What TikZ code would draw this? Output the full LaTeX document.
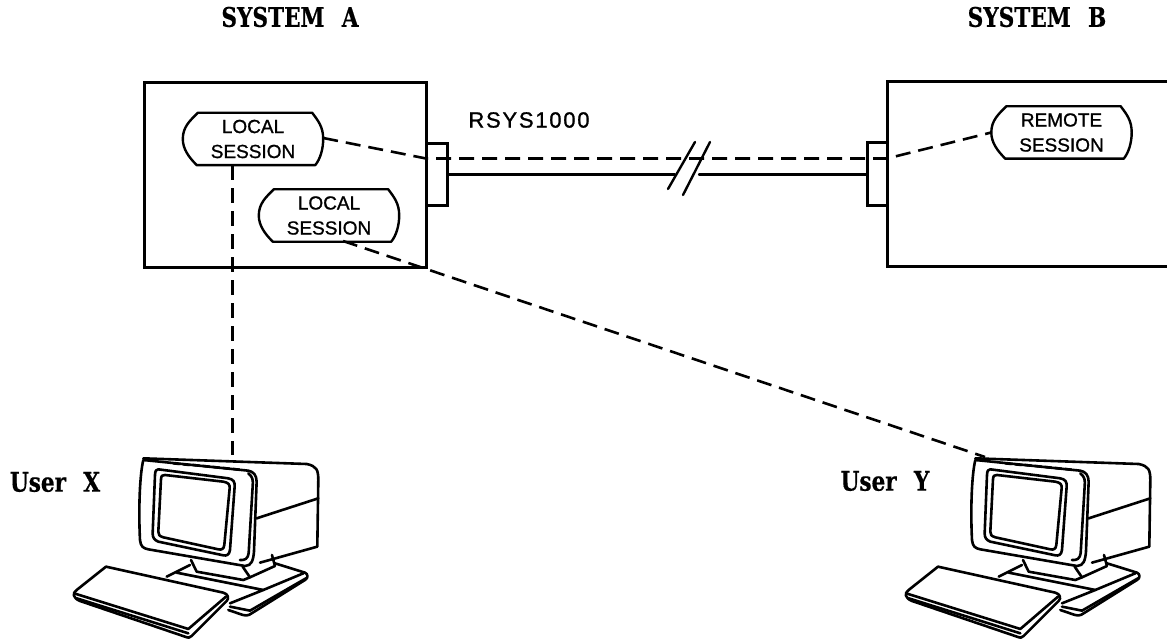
\documentclass[tikz,border=0pt]{standalone}
\usepackage{fontspec}
\setmainfont{Liberation Sans}
\newfontfamily\headfont{DejaVu Serif}[WordSpace=2.3,FakeStretch=0.8,BoldFeatures={FakeBold=0.5}]
\newfontfamily\sessfont{Liberation Sans}[FakeBold=1.0]
\newfontfamily\rsysfont{Liberation Sans}[FakeBold=1.0,LetterSpace=8]
\usetikzlibrary{calc}
\tikzset{
  line/.style={line width=2.4pt,line cap=round,line join=round},
  dash line/.style={line width=2.6pt,dash pattern=on 15pt off 8pt},
  boxnode/.style={rectangle,draw,line width=2.4pt,inner sep=0pt,minimum width=#1},
  heading/.style={font=\headfont\bfseries\fontsize{27}{27}\selectfont,inner sep=0pt},
  session/.style={font=\sessfont\fontsize{19}{25}\selectfont,align=center,inner sep=0pt,minimum width=140pt,minimum height=52pt,text width=140pt},
  sess outline/.style={line width=2.4pt,line join=round},
  pics/terminal/.style={code={
    \begin{scope}[x=.3333pt,y=-.3333pt,line width=2.6pt,line join=round,line cap=round]
      % housing
      \draw (250,55) -- (740,72) .. controls (770,78) and (775,90) .. (775,120) -- (772,320) -- (600,368);
      \draw (590,235) -- (775,175);
      % front bezel
      \draw (250,60) .. controls (240,100) and (235,200) .. (240,300) .. controls (242,320) and (250,325) .. (265,328) -- (555,378) .. controls (575,378) and (580,360) .. (582,335) -- (590,125) .. controls (590,105) and (580,95) .. (565,92) -- cycle;
      \draw (565,100) .. controls (578,110) and (580,120) .. (578,140) -- (566,340) .. controls (564,355) and (555,362) .. (540,360);
      \draw (295,88) -- (505,115) .. controls (520,118) and (525,125) .. (524,140) -- (510,330) .. controls (508,345) and (500,348) .. (490,346) -- (295,305) .. controls (282,300) and (278,292) .. (278,280) -- (285,105) .. controls (286,92) and (288,88) .. (295,88) -- cycle;
      \draw (315,105) -- (490,125) .. controls (505,128) and (510,133) .. (509,145) -- (493,315) .. controls (491,328) and (485,330) .. (475,328) -- (310,292) .. controls (298,288) and (295,285) .. (295,275) -- (303,118) .. controls (304,108) and (306,104) .. (315,105) -- cycle;
      \foreach \bx/\by in {340/70,370/73,400/75,430/78,460/81,490/84,520/87}
        \draw (\bx,\by) -- ++(18,2);
      % stand
      \draw (393,360) -- (410,395) -- (550,420) -- (570,412) -- (548,380);
      \draw (636,345) -- (645,378) -- (570,412);
      % base
      \draw (320,410) -- (390,375);
      \draw (645,370) -- (735,398) .. controls (745,402) and (745,415) .. (735,420) -- (575,520) .. controls (565,528) and (555,528) .. (540,522) -- (505,510);
      \draw (350,398) -- (610,450) -- (510,490);
      \draw (610,450) -- (730,400);
      \draw (510,500) -- (570,512) -- (738,415);
      % keyboard
      \draw (138,380) -- (490,458) .. controls (505,462) and (508,475) .. (500,483) -- (395,588) .. controls (390,594) and (385,594) .. (375,590) -- (60,483) .. controls (40,475) and (35,460) .. (50,450) -- cycle;
      \draw (42,460) -- (385,567) -- (498,470);
      \draw (50,475) -- (385,580);
    \end{scope}}}
}
\newcommand{\sessionshape}[1]{%
  \draw[sess outline] ($(#1.north west)+(15,0)$) -- ($(#1.north east)+(-11,0)$)
    .. controls ($(#1.north east)+(-5,8)$) and ($(#1.east)+(0,-12)$) .. (#1.east)
    .. controls ($(#1.east)+(0,10)$) and ($(#1.south east)+(-3,-6)$) .. ($(#1.south east)+(-8,0)$)
    -- ($(#1.south west)+(14,0)$)
    .. controls ($(#1.south west)+(6,-8)$) and ($(#1.west)+(0,10)$) .. (#1.west)
    .. controls ($(#1.west)+(0,-12)$) and ($(#1.north west)+(7,8)$) .. ($(#1.north west)+(15,0)$) -- cycle;}
\begin{document}
\begin{tikzpicture}[x=1pt,y=-1pt]
  \useasboundingbox (0,0) rectangle (1167,639);
  \clip (0,0) rectangle (1167,639);
  \node[heading] (sysa) at (290,17) {SYSTEM A};
  \node[heading] (sysb) at (1037,17) {SYSTEM B};
  \node[heading] (userx) at (55,482) {User X};
  \node[heading] (usery) at (885,481) {User Y};
  \node[font=\rsysfont\fontsize{22}{22}\selectfont,inner sep=0pt] (rsys) at (529,120) {RSYS1000};

  \node[boxnode=282pt,minimum height=185pt] (boxa) at (285.5,175) {};
  \node[boxnode=320pt,minimum height=185pt] (boxb) at (1047.5,174) {};
  \node[boxnode=21pt,minimum height=62pt] (porta) at (437,174.5) {};
  \node[boxnode=20pt,minimum height=63pt] (portb) at (877.5,174) {};

  \node[session] (s1) at (253,139) {LOCAL\\SESSION};
  \node[session] (s2) at (329,215.5) {LOCAL\\SESSION};
  \node[session] (s3) at (1061.5,132.5) {REMOTE\\SESSION};
  \sessionshape{s1}\sessionshape{s2}\sessionshape{s3}

  \path (60,440) pic (tx) {terminal};
  \path (892,440) pic (ty) {terminal};
  \coordinate (txtop) at (232.5,455);
  \coordinate (tytop) at (985,457);

  % solid link with break
  \coordinate (brk1) at (675,174.5);
  \coordinate (brk2) at (699,174.5);
  \draw[line] (porta.east) -- (brk1);
  \draw[line] (brk2) -- (portb.west |- brk2);
  \coordinate (sl1a) at (668,189); \coordinate (sl1b) at (695,142);
  \coordinate (sl2a) at (683,195); \coordinate (sl2b) at (710,142);
  \draw[line] (sl1a) -- (sl1b);
  \draw[line] (sl2a) -- (sl2b);

  % dashed links
  \coordinate (kneea) at (426,158.5);
  \coordinate (kneeb) at (887,158.5);
  \draw[dash line] (s1.east) ++(0,-1) -- (kneea) -- (kneeb) -- (s3.west);
  \draw[dash line] (s1.south -| txtop) -- (txtop);
  \coordinate (s2exit) at (343,241);
  \draw[dash line] (s2exit) -- (tytop);
\end{tikzpicture}
\end{document}
